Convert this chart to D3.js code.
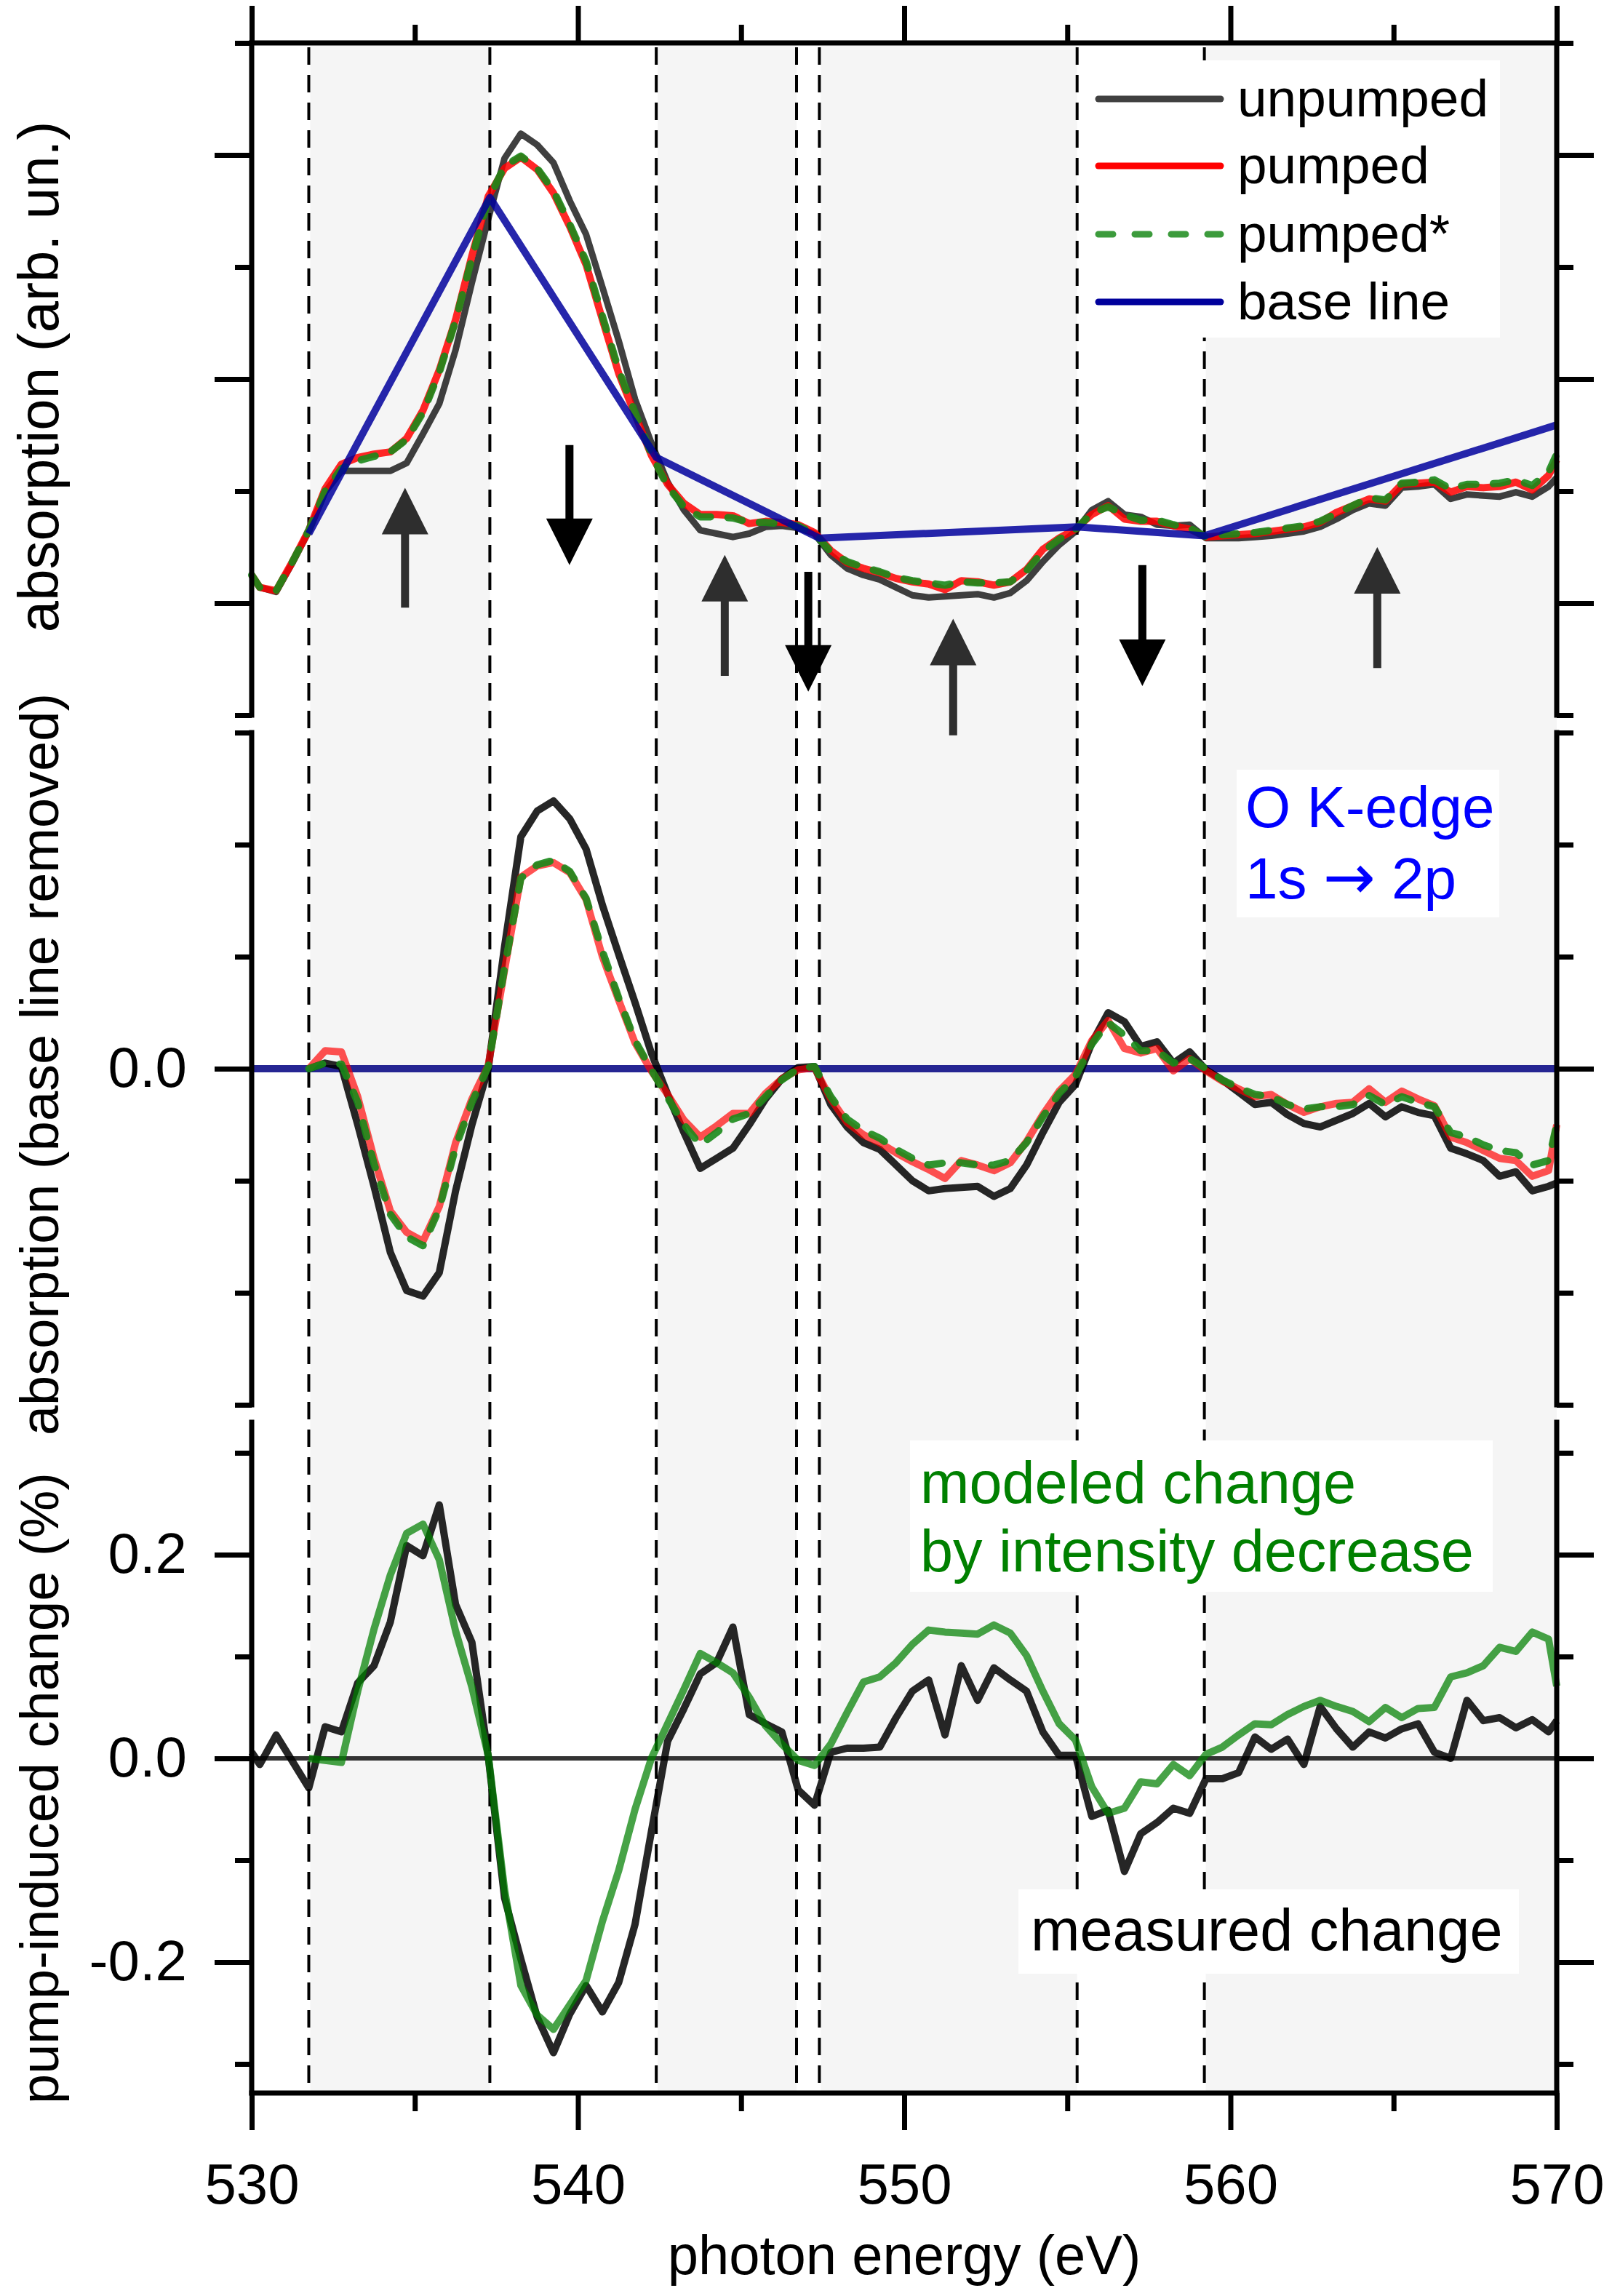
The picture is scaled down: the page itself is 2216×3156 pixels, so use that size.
<!DOCTYPE html>
<html>
<head>
<meta charset="utf-8">
<script src="https://cdn.jsdelivr.net/npm/d3@7"></script>
<style>
  body { margin: 0; background: #fff; }
  text { font-family: "Liberation Sans", Arial, sans-serif; }
</style>
</head>
<body>
<div id="chart"></div>
<script>
// photon energy grid (eV), shared by all measured spectra
var energy = [530, 530.25, 530.75, 531.25, 531.75, 532.25, 532.75, 533.25, 533.75, 534.25, 534.75,
  535.25, 535.75, 536.25, 536.75, 537.25, 537.75, 538.25, 538.75, 539.25, 539.75,
  540.25, 540.75, 541.25, 541.75, 542.25, 542.75, 543.25, 543.75, 544.25, 544.75,
  545.25, 545.75, 546.25, 546.75, 547.25, 547.75, 548.25, 548.75, 549.25, 549.75,
  550.25, 550.75, 551.25, 551.75, 552.25, 552.75, 553.25, 553.75, 554.25, 554.75,
  555.25, 555.75, 556.25, 556.75, 557.25, 557.75, 558.25, 558.75, 559.25, 559.75,
  560.25, 560.75, 561.25, 561.75, 562.25, 562.75, 563.25, 563.75, 564.25, 564.75,
  565.25, 565.75, 566.25, 566.75, 567.25, 567.75, 568.25, 568.75, 569.25, 569.75, 570];

// top panel: absorption (arb. un.)
var unpumped = [1.25, 1.14, 1.10, 1.36, 1.64, 1.99, 2.18, 2.18, 2.18, 2.18, 2.25,
  2.51, 2.78, 3.26, 3.86, 4.43, 4.97, 5.19, 5.09, 4.93, 4.59,
  4.29, 3.82, 3.34, 2.82, 2.43, 2.08, 1.83, 1.65, 1.62, 1.59,
  1.62, 1.68, 1.69, 1.67, 1.62, 1.43, 1.31, 1.25, 1.21, 1.14,
  1.07, 1.05, 1.06, 1.07, 1.08, 1.05, 1.09, 1.20, 1.37, 1.52,
  1.64, 1.83, 1.91, 1.79, 1.77, 1.70, 1.69, 1.70, 1.58, 1.58,
  1.58, 1.59, 1.60, 1.62, 1.64, 1.68, 1.75, 1.83, 1.89, 1.87,
  2.03, 2.04, 2.06, 1.93, 1.97, 1.96, 1.95, 1.99, 1.95, 2.04, 2.12];
var pumped = [1.25, 1.14, 1.11, 1.37, 1.65, 2.02, 2.24, 2.30, 2.33, 2.35, 2.47,
  2.72, 3.08, 3.53, 4.10, 4.63, 4.88, 4.98, 4.87, 4.66, 4.36,
  4.02, 3.53, 3.05, 2.68, 2.32, 2.06, 1.89, 1.79, 1.79, 1.78,
  1.71, 1.73, 1.72, 1.70, 1.63, 1.47, 1.36, 1.31, 1.27, 1.22,
  1.19, 1.17, 1.12, 1.20, 1.19, 1.16, 1.19, 1.30, 1.48, 1.58,
  1.66, 1.79, 1.87, 1.75, 1.73, 1.73, 1.69, 1.66, 1.59, 1.60,
  1.61, 1.62, 1.64, 1.66, 1.68, 1.72, 1.81, 1.87, 1.93, 1.91,
  2.06, 2.07, 2.08, 1.99, 2.04, 2.03, 2.04, 2.08, 2.01, 2.14, 2.28];
var pumpedStar = [1.25, 1.14, 1.11, 1.37, 1.65, 2.00, 2.20, 2.27, 2.31, 2.35, 2.46,
  2.70, 3.06, 3.52, 4.08, 4.60, 4.90, 4.99, 4.88, 4.68, 4.38,
  4.05, 3.56, 3.08, 2.70, 2.33, 2.04, 1.86, 1.77, 1.77, 1.76,
  1.72, 1.72, 1.71, 1.69, 1.62, 1.46, 1.37, 1.32, 1.28, 1.23,
  1.20, 1.18, 1.16, 1.19, 1.18, 1.18, 1.19, 1.29, 1.46, 1.57,
  1.66, 1.80, 1.86, 1.79, 1.74, 1.74, 1.70, 1.67, 1.59, 1.61,
  1.62, 1.63, 1.65, 1.67, 1.69, 1.73, 1.80, 1.87, 1.94, 1.92,
  2.07, 2.08, 2.10, 2.02, 2.06, 2.06, 2.07, 2.10, 2.05, 2.17, 2.33];
var baseEnergy = [531.75, 537.3, 542.4, 547.4, 555.3, 559.2, 570];
var baseValue = [1.62, 4.62, 2.30, 1.58, 1.68, 1.60, 2.59];

// middle panel: absorption with base line removed
var unpumpedFlat = [null, null, null, null, 0, 0.05, 0.02, -0.50, -1.05, -1.64, -1.98,
  -2.03, -1.82, -1.09, -0.50, 0, 1.09, 2.07, 2.30, 2.39, 2.23,
  1.96, 1.46, 1.02, 0.59, 0.14, -0.23, -0.57, -0.89, -0.80, -0.71,
  -0.50, -0.27, -0.09, 0.01, 0.02, -0.32, -0.52, -0.66, -0.72, -0.86,
  -1.00, -1.09, -1.07, -1.06, -1.05, -1.14, -1.07, -0.86, -0.57, -0.30,
  -0.14, 0.23, 0.50, 0.42, 0.20, 0.24, 0.05, 0.15, -0.01, -0.10,
  -0.21, -0.32, -0.30, -0.41, -0.49, -0.52, -0.46, -0.40, -0.31, -0.43,
  -0.34, -0.39, -0.42, -0.71, -0.76, -0.82, -0.96, -0.92, -1.09, -1.05, -1.02];
var pumpedFlat = [null, null, null, null, 0, 0.16, 0.15, -0.25, -0.80, -1.27, -1.46,
  -1.54, -1.23, -0.66, -0.27, 0.03, 0.88, 1.71, 1.81, 1.84, 1.75,
  1.51, 1.00, 0.61, 0.23, -0.02, -0.23, -0.46, -0.61, -0.51, -0.40,
  -0.40, -0.22, -0.09, -0.01, 0.01, -0.27, -0.48, -0.59, -0.66, -0.75,
  -0.83, -0.90, -0.98, -0.82, -0.86, -0.91, -0.84, -0.65, -0.41, -0.20,
  -0.05, 0.25, 0.43, 0.18, 0.14, 0.18, -0.02, 0.09, -0.02, -0.11,
  -0.18, -0.25, -0.23, -0.32, -0.39, -0.34, -0.31, -0.30, -0.18, -0.30,
  -0.20, -0.27, -0.33, -0.61, -0.66, -0.73, -0.80, -0.82, -0.96, -0.91, -0.50];
var pumpedStarFlat = [null, null, null, null, 0, 0.05, 0.04, -0.30, -0.85, -1.30, -1.50,
  -1.58, -1.25, -0.70, -0.30, 0.02, 0.90, 1.70, 1.82, 1.86, 1.76,
  1.52, 1.05, 0.63, 0.25, -0.01, -0.26, -0.50, -0.68, -0.57, -0.45,
  -0.40, -0.25, -0.10, 0, 0.02, -0.25, -0.45, -0.55, -0.62, -0.72,
  -0.80, -0.86, -0.84, -0.84, -0.86, -0.86, -0.82, -0.66, -0.43, -0.22,
  -0.07, 0.22, 0.41, 0.30, 0.16, 0.16, 0.05, 0.09, 0, -0.10,
  -0.17, -0.23, -0.25, -0.32, -0.36, -0.34, -0.34, -0.32, -0.24, -0.32,
  -0.25, -0.30, -0.34, -0.57, -0.61, -0.68, -0.73, -0.75, -0.86, -0.82, -0.50];

// bottom panel: pump-induced change (%)
var measuredChange = [0.006, -0.006, 0.023, -0.003, -0.029, 0.031, 0.026, 0.074, 0.091, 0.134, 0.209,
  0.199, 0.249, 0.151, 0.114, 0.002, -0.137, -0.197, -0.254, -0.289, -0.251,
  -0.223, -0.249, -0.220, -0.163, -0.072, 0.017, 0.049, 0.083, 0.094, 0.129,
  0.043, 0.034, 0.026, -0.031, -0.046, 0.006, 0.010, 0.010, 0.011, 0.040,
  0.066, 0.077, 0.023, 0.091, 0.057, 0.089, 0.077, 0.066, 0.026, 0.003,
  0.003, -0.057, -0.051, -0.111, -0.074, -0.063, -0.049, -0.054, -0.020, -0.020,
  -0.014, 0.021, 0.009, 0.019, -0.006, 0.051, 0.029, 0.011, 0.026, 0.020,
  0.029, 0.034, 0.006, 0.000, 0.057, 0.037, 0.040, 0.030, 0.038, 0.026, 0.037];
var modeledChange = [null, null, null, null, 0.000, -0.002, -0.004, 0.066, 0.127, 0.180, 0.221,
  0.230, 0.195, 0.125, 0.070, 0.003, -0.129, -0.223, -0.252, -0.266, -0.242,
  -0.218, -0.160, -0.110, -0.050, 0.000, 0.034, 0.068, 0.103, 0.094, 0.084,
  0.060, 0.032, 0.014, -0.002, -0.007, 0.014, 0.045, 0.075, 0.080, 0.094,
  0.112, 0.126, 0.124, 0.123, 0.122, 0.131, 0.123, 0.101, 0.066, 0.034,
  0.018, -0.028, -0.054, -0.049, -0.023, -0.025, -0.006, -0.017, 0.004, 0.011,
  0.023, 0.034, 0.033, 0.043, 0.051, 0.057, 0.051, 0.046, 0.036, 0.050,
  0.040, 0.049, 0.050, 0.080, 0.084, 0.091, 0.109, 0.105, 0.124, 0.117, 0.071];

// region edges (dashed) and shaded bands
var edges = [531.75, 537.3, 542.4, 546.7, 547.4, 555.3, 559.2];
var bands = [[531.75, 537.3], [542.4, 546.7], [547.4, 555.3], [559.2, 570]];

// arrows in the top panel: energy, tail value, tip value
var arrows = [
  {e: 534.7, from: 0.96, to: 2.03},
  {e: 539.74, from: 2.41, to: 1.34},
  {e: 544.5, from: 0.35, to: 1.43},
  {e: 547.06, from: 1.28, to: 0.21},
  {e: 551.5, from: -0.18, to: 0.86},
  {e: 557.3, from: 1.34, to: 0.26},
  {e: 564.5, from: 0.42, to: 1.50}
];

var xMajor = [530, 540, 550, 560, 570];
var xMinor = [535, 545, 555, 565];
var legendLabels = ["unpumped", "pumped", "pumped*", "base line"];

// ---- layout
var W = 2216, H = 3156;
var FONT = '"Liberation Sans", Arial, sans-serif';
var left = 346, right = 2140;
var p1 = {top: 59, bottom: 983}, p2 = {top: 1007, bottom: 1931}, p3 = {top: 1955, bottom: 2877};

var x = d3.scaleLinear().domain([530, 570]).range([left, right]);
var y1 = d3.scaleLinear().domain([0, 6]).range([p1.bottom, p1.top]);
var y2 = d3.scaleLinear().domain([-3, 3]).range([p2.bottom, p2.top]);
var y3 = d3.scaleLinear().domain([-0.33, 0.33]).range([2879, 1955]);

var svg = d3.select("#chart").append("svg")
    .attr("width", W)
    .attr("height", H);

svg.append("rect").attr("width", W).attr("height", H).attr("fill", "#fff");

// shaded bands
svg.selectAll("rect.band")
    .data(bands)
    .enter().append("rect")
    .attr("class", "band")
    .attr("x", function(d) { return x(d[0]) + 2; })
    .attr("width", function(d) { return x(d[1]) - x(d[0]) - 2; })
    .attr("y", p1.top)
    .attr("height", p3.bottom - p1.top)
    .style("fill", "#f5f5f5");

// dashed region edges
svg.selectAll("line.edge")
    .data(edges)
    .enter().append("line")
    .attr("class", "edge")
    .attr("x1", function(d) { return x(d); })
    .attr("x2", function(d) { return x(d); })
    .attr("y1", p1.top + 6)
    .attr("y2", p3.bottom)
    .style("stroke", "#000")
    .style("stroke-width", 4)
    .style("stroke-dasharray", "24,14");

// white boxes behind the texts
var boxes = [
  [1488, 83, 574, 381],
  [1700, 1058, 361, 203],
  [1251, 1980, 801, 208],
  [1400, 2597, 688, 116]
];
svg.selectAll("rect.box")
    .data(boxes)
    .enter().append("rect")
    .attr("class", "box")
    .attr("x", function(d) { return d[0]; })
    .attr("y", function(d) { return d[1]; })
    .attr("width", function(d) { return d[2]; })
    .attr("height", function(d) { return d[3]; })
    .style("fill", "#fff");

function drawCurve(xs, ys, yScale, color, width, opacity, dash) {
    var pts = xs.map(function(e, i) { return [e, ys[i]]; });
    var line = d3.line()
        .defined(function(d) { return d[1] !== null; })
        .x(function(d) { return x(d[0]); })
        .y(function(d) { return yScale(d[1]); });
    var p = svg.append("path")
        .datum(pts)
        .attr("d", line)
        .style("fill", "none")
        .style("stroke", color)
        .style("stroke-width", width)
        .style("stroke-opacity", opacity)
        .style("stroke-linejoin", "round")
        .style("stroke-linecap", dash ? "round" : "butt");
    if (dash) p.style("stroke-dasharray", dash);
    return p;
}

var GREEN_DASH = "20,24";

// top panel
drawCurve(energy, unpumped, y1, "#000", 9, 0.75);
drawCurve(energy, pumped, y1, "#ff0000", 10, 0.85);
drawCurve(energy, pumpedStar, y1, "#1a8a1a", 10, 0.9, GREEN_DASH);
drawCurve(baseEnergy, baseValue, y1, "#00009c", 10, 0.85);

// arrows
arrows.forEach(function(a) {
    var cx = x(a.e), y0 = y1(a.from), yt = y1(a.to);
    var dir = yt < y0 ? -1 : 1;
    var head = 64, half = 32, sw = 5.5;
    var yb = yt - dir * head;
    var path = "M" + (cx - sw) + "," + y0 + "L" + (cx - sw) + "," + yb +
        "L" + (cx - half) + "," + yb + "L" + cx + "," + yt + "L" + (cx + half) + "," + yb +
        "L" + (cx + sw) + "," + yb + "L" + (cx + sw) + "," + y0 + "Z";
    svg.append("path")
        .attr("d", path)
        .style("fill", dir < 0 ? "#2e2e2e" : "#000");
});

// middle panel
svg.append("line")
    .attr("x1", x(530)).attr("x2", x(570))
    .attr("y1", y2(0)).attr("y2", y2(0))
    .style("stroke", "#000080")
    .style("stroke-opacity", 0.85)
    .style("stroke-width", 10);
drawCurve(energy, unpumpedFlat, y2, "#000", 10, 0.85);
drawCurve(energy, pumpedFlat, y2, "#ff0000", 10, 0.68);
drawCurve(energy, pumpedStarFlat, y2, "#1a8a1a", 10, 0.9, GREEN_DASH);

// bottom panel
svg.append("line")
    .attr("x1", x(530)).attr("x2", x(570))
    .attr("y1", y3(0)).attr("y2", y3(0))
    .style("stroke", "#333")
    .style("stroke-width", 6);
drawCurve(energy, measuredChange, y3, "#000", 10, 0.85);
drawCurve(energy, modeledChange, y3, "#008000", 10, 0.72);

// ---- axes
function styleAxis(g) {
    g.select(".domain").remove();
    g.selectAll(".tick line").style("stroke", "#000").style("stroke-width", 7);
    g.selectAll("text").style("font-family", FONT).style("font-size", "78px").style("fill", "#000");
}

function panelAxes(ys, p, major, minor, labelled) {
    var fmt = function(d) { return d.toFixed(1); };
    svg.append("g").attr("transform", "translate(" + left + ",0)")
        .call(d3.axisLeft(ys).tickValues(minor).tickSize(23).tickFormat(""))
        .call(styleAxis);
    svg.append("g").attr("transform", "translate(" + left + ",0)")
        .call(d3.axisLeft(ys).tickValues(major).tickSize(51).tickPadding(38)
            .tickFormat(labelled ? fmt : ""))
        .call(styleAxis);
    svg.append("g").attr("transform", "translate(" + right + ",0)")
        .call(d3.axisRight(ys).tickValues(minor).tickSize(23).tickFormat(""))
        .call(styleAxis);
    svg.append("g").attr("transform", "translate(" + right + ",0)")
        .call(d3.axisRight(ys).tickValues(major).tickSize(51).tickFormat(""))
        .call(styleAxis);
    [left, right].forEach(function(xx) {
        svg.append("line")
            .attr("x1", xx).attr("x2", xx)
            .attr("y1", p.top - 3.5).attr("y2", p.bottom + 3.5)
            .style("stroke", "#000").style("stroke-width", 7);
    });
}

panelAxes(y1, p1, [1, 3, 5], [0, 2, 4, 6], false);
panelAxes(y2, p2, [0], [-3, -2, -1, 1, 2, 3], true);
panelAxes(y3, p3, [-0.2, 0, 0.2], [-0.3, -0.1, 0.1, 0.3], true);

// top axis (panel 1)
svg.append("g").attr("transform", "translate(0," + p1.top + ")")
    .call(d3.axisTop(x).tickValues(xMajor).tickSize(51).tickFormat(""))
    .call(styleAxis);
svg.append("g").attr("transform", "translate(0," + p1.top + ")")
    .call(d3.axisTop(x).tickValues(xMinor).tickSize(25).tickFormat(""))
    .call(styleAxis);
svg.append("line")
    .attr("x1", left - 3.5).attr("x2", right + 3.5)
    .attr("y1", p1.top).attr("y2", p1.top)
    .style("stroke", "#000").style("stroke-width", 7);

// bottom axis (panel 3)
svg.append("g").attr("transform", "translate(0," + p3.bottom + ")")
    .call(d3.axisBottom(x).tickValues(xMajor).tickSize(51).tickPadding(46).tickFormat(d3.format("d")))
    .call(styleAxis);
svg.append("g").attr("transform", "translate(0," + p3.bottom + ")")
    .call(d3.axisBottom(x).tickValues(xMinor).tickSize(25).tickFormat(""))
    .call(styleAxis);
svg.append("line")
    .attr("x1", left - 3.5).attr("x2", right + 3.5)
    .attr("y1", p3.bottom).attr("y2", p3.bottom)
    .style("stroke", "#000").style("stroke-width", 7);

// ---- axis titles
svg.append("text")
    .attr("x", (left + right) / 2)
    .attr("y", 3126)
    .attr("text-anchor", "middle")
    .style("font-size", "76px")
    .text("photon energy (eV)");

var yTitles = [
  {t: "absorption (arb. un.)", c: 518, s: 78},
  {t: "absorption (base line removed)", c: 1463, s: 74},
  {t: "pump-induced change (%)", c: 2458, s: 74}
];
yTitles.forEach(function(d) {
    svg.append("text")
        .attr("transform", "translate(80," + d.c + ") rotate(-90)")
        .attr("text-anchor", "middle")
        .style("font-size", d.s + "px")
        .text(d.t);
});

// ---- legend
var legendStyle = [
  {color: "#000", opacity: 0.75, dash: null},
  {color: "#ff0000", opacity: 1, dash: null},
  {color: "#1a8a1a", opacity: 0.85, dash: "20,30"},
  {color: "#00009c", opacity: 1, dash: null}
];
var legendRows = [136, 228, 322, 415];
legendLabels.forEach(function(lab, i) {
    var st = legendStyle[i];
    var ln = svg.append("line")
        .attr("x1", 1510).attr("x2", 1678)
        .attr("y1", legendRows[i]).attr("y2", legendRows[i])
        .style("stroke", st.color)
        .style("stroke-opacity", st.opacity)
        .style("stroke-width", 9)
        .style("stroke-linecap", "round");
    if (st.dash) ln.style("stroke-dasharray", st.dash);
    svg.append("text")
        .attr("x", 1701)
        .attr("y", legendRows[i] + 24)
        .style("font-size", "73px")
        .text(lab);
});

// ---- annotations
function note(lines, x0, baselines, color, size) {
    lines.forEach(function(t, i) {
        svg.append("text")
            .attr("x", x0)
            .attr("y", baselines[i])
            .style("font-size", size + "px")
            .style("fill", color)
            .text(t);
    });
}
note(["O K-edge"], 1712, [1137], "#0000ff", 80);
var kline = svg.append("text")
    .attr("x", 1712)
    .attr("y", 1235)
    .style("font-size", "80px")
    .style("fill", "#0000ff");
kline.append("tspan").text("1s ");
kline.append("tspan").style("font-family", '"DejaVu Sans", sans-serif').style("font-size", "86px").text("\u2192");
kline.append("tspan").text(" 2p");
note(["modeled change", "by intensity decrease"], 1265, [2066, 2160], "#008000", 81);
note(["measured change"], 1417, [2681], "#000", 81);
</script>
</body>
</html>
